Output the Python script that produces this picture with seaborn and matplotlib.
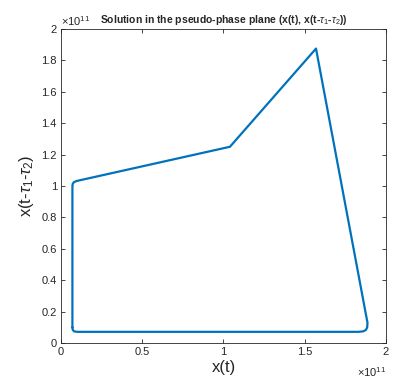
import numpy as np
import pandas as pd
import matplotlib
matplotlib.use('Agg')
import matplotlib.pyplot as plt
import seaborn as sns
from matplotlib.ticker import FuncFormatter

# Траектория в псевдофазовой плоскости (в единицах 1e11)
x_t = [0.07, 0.07, 0.072, 0.08, 0.095, 1.04, 1.57, 1.887, 1.885, 1.877, 1.86, 1.83, 0.10, 0.08, 0.072, 0.07]
x_delay = [0.10, 1.00, 1.015, 1.025, 1.032, 1.25, 1.875, 0.13, 0.10, 0.084, 0.075, 0.072, 0.072, 0.075, 0.085, 0.10]
scale = 1e11

x_ticks = [0, 0.5, 1, 1.5, 2]
y_ticks = [0, 0.2, 0.4, 0.6, 0.8, 1, 1.2, 1.4, 1.6, 1.8, 2]

df = pd.DataFrame({'x': np.array(x_t) * scale, 'y': np.array(x_delay) * scale})

sns.set_style('ticks')
plt.rcParams['font.family'] = ['Liberation Sans', 'DejaVu Sans']
plt.rcParams['mathtext.fontset'] = 'custom'
plt.rcParams['mathtext.rm'] = 'Liberation Sans'
plt.rcParams['mathtext.it'] = 'Liberation Sans:italic'

fig = plt.figure(figsize=(4.07, 3.86), dpi=100)
ax = fig.add_axes([0.150, 0.111, 0.798, 0.814])

sns.lineplot(data=df, x='x', y='y', sort=False, estimator=None,
             color=(0, 0.447, 0.741), linewidth=1.6, ax=ax)

ax.set_xlim(0, 2 * scale)
ax.set_ylim(0, 2 * scale)
ax.set_xticks(np.array(x_ticks) * scale)
ax.set_yticks(np.array(y_ticks) * scale)
fmt = FuncFormatter(lambda v, p: f'{v / scale:g}')
ax.xaxis.set_major_formatter(fmt)
ax.yaxis.set_major_formatter(fmt)

edge = '#262626'
for s in ax.spines.values():
    s.set_visible(True)
    s.set_color(edge)
    s.set_linewidth(0.6)
ax.tick_params(direction='in', length=3, width=0.6, color=edge,
               labelsize=8, labelcolor=edge, top=True, right=True, pad=3)

ax.set_xlabel('x(t)', fontsize=12, color=edge, labelpad=2)
ax.set_ylabel(r'x(t-$\tau_1$-$\tau_2$)', fontsize=12, color=edge, labelpad=4)
ax.set_title(r'Solution in the pseudo-phase plane (x(t), x(t-$\tau_1$-$\tau_2$))',
             fontsize=7.5, fontweight='bold', pad=4)

ax.text(0.0, 1.004, r'$\times10^{11}$', transform=ax.transAxes, fontsize=8,
        color=edge, ha='left', va='bottom')
ax.text(1.0, -0.07, r'$\times10^{11}$', transform=ax.transAxes, fontsize=8,
        color=edge, ha='right', va='top')

fig.savefig('out.png', dpi=100)
